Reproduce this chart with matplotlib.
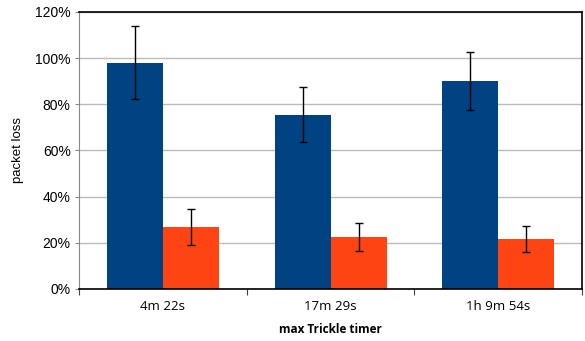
import numpy as np
import matplotlib.pyplot as plt
from matplotlib.ticker import PercentFormatter

categories = ["4m 22s", "17m 29s", "1h 9m 54s"]
blue_vals = [98, 75.5, 90]
blue_err = [15.7, 12, 12.5]
orange_vals = [27, 22.5, 21.5]
orange_err = [7.8, 6.2, 5.6]

fig = plt.figure(figsize=(5.85, 3.41), dpi=100)
ax = fig.add_axes([0.135, 0.1525, 0.86, 0.8125])

x = np.arange(len(categories)) + 0.5
w = 0.334
ekw = dict(ecolor="black", capsize=3, elinewidth=1, capthick=1)
ax.bar(x - w / 2, blue_vals, w, color="#004282", yerr=blue_err, error_kw=ekw, zorder=2)
ax.bar(x + w / 2, orange_vals, w, color="#FF4413", yerr=orange_err, error_kw=ekw, zorder=2)

ax.set_xlim(0, 3)
ax.set_ylim(0, 120)
ax.set_yticks(np.arange(0, 121, 20))
ax.yaxis.set_major_formatter(PercentFormatter(decimals=0))
ax.grid(axis="y", color="#BBBBBB", linewidth=1, zorder=0)

ax.set_xticks([0, 1, 2, 3])
ax.set_xticklabels([])
ax.set_xticks(x, minor=True)
ax.set_xticklabels(categories, minor=True, fontfamily="Open Sans", fontsize=9.5)
ax.tick_params(axis="x", which="minor", length=0, pad=8)
ax.tick_params(axis="x", which="major", length=4, color="#444444")
ax.tick_params(axis="y", length=3, color="#888888", labelsize=10, pad=3)
for lbl in ax.get_yticklabels():
    lbl.set_fontfamily("Liberation Sans")

ax.spines["left"].set_color("#888888")
for s in ["bottom", "top", "right"]:
    ax.spines[s].set_color("black")
    ax.spines[s].set_linewidth(1.2)

ax.set_ylabel("packet loss", fontfamily="Liberation Sans", fontsize=9.5, labelpad=8)
ax.set_xlabel("max Trickle timer", fontfamily="Open Sans", fontweight="bold", fontsize=8.5, labelpad=7)

fig.savefig("out.png", dpi=100)
